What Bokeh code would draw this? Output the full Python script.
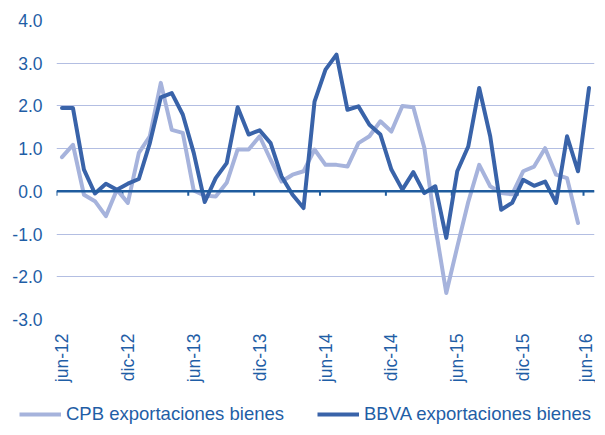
import math
from bokeh.plotting import figure
from bokeh.models import (Range1d, FixedTicker, Span, Legend, LegendItem,
                          ColumnDataSource)
from bokeh.embed import file_html
from bokeh.resources import INLINE

# ---- data -------------------------------------------------------------
tick_labels = ["jun-12", "dic-12", "jun-13", "dic-13", "jun-14",
               "dic-14", "jun-15", "dic-15", "jun-16"]
n_months = 49  # jun-12 .. jun-16
series_names = ["CPB exportaciones bienes", "BBVA exportaciones bienes"]

cpb = [0.80, 1.09, -0.08, -0.23, -0.58, 0.04, -0.27, 0.90, 1.29, 2.54,
       1.44, 1.37, 0.02, -0.10, -0.12, 0.20, 0.98, 0.98, 1.29, 0.74,
       0.23, 0.39, 0.47, 0.98, 0.62, 0.62, 0.58, 1.13, 1.29, 1.64,
       1.40, 2.00, 1.97, 1.02, -0.82, -2.38, -1.30, -0.25, 0.62, 0.12,
       -0.04, -0.07, 0.47, 0.58, 1.01, 0.39, 0.31, -0.74, float("nan")]

bbva = [1.95, 1.95, 0.51, -0.05, 0.18, 0.04, 0.18, 0.29, 1.13, 2.20,
        2.30, 1.80, 0.90, -0.25, 0.31, 0.66, 1.97, 1.33, 1.43, 1.13,
        0.35, -0.08, -0.39, 2.10, 2.85, 3.20, 1.91, 1.99, 1.56, 1.33,
        0.51, 0.04, 0.45, -0.04, 0.12, -1.09, 0.47, 1.05, 2.42, 1.29,
        -0.43, -0.27, 0.27, 0.13, 0.23, -0.27, 1.29, 0.47, 2.42]

y_ticks = [-3, -2, -1, 0, 1, 2, 3, 4]

# ---- styling ----------------------------------------------------------
TEXT = "#1f5ea6"
AXIS = "#1f5c9e"
GRID = "#b3bee2"
C_CPB = "#a6b3dc"
C_BBVA = "#3963a9"
FONT = "Liberation Sans"

months = list(range(n_months))
label_ticks = list(range(0, n_months, 6))

p = figure(frame_width=538, frame_height=299, output_backend="svg",
           toolbar_location=None,
           x_range=Range1d(-0.5, n_months - 0.5), y_range=Range1d(-3, 4),
           min_border_left=56, min_border_right=1, min_border_top=20,
           min_border_bottom=80)
p.outline_line_color = None
p.background_fill_color = "white"

# grid
p.xgrid.grid_line_color = None
p.ygrid.ticker = FixedTicker(ticks=y_ticks)
p.ygrid.grid_line_color = GRID
p.ygrid.grid_line_width = 1.2

# y axis
p.yaxis.ticker = FixedTicker(ticks=y_ticks)
p.yaxis.major_label_overrides = {t: f"{t:.1f}" for t in y_ticks}
p.yaxis.axis_line_color = None
p.yaxis.major_tick_line_color = None
p.yaxis.minor_tick_line_color = None
p.yaxis.major_tick_out = 0
p.yaxis.major_label_standoff = 14
p.yaxis.major_label_text_font = FONT
p.yaxis.major_label_text_font_size = "17.5px"
p.yaxis.major_label_text_color = TEXT

# x axis (labels only)
p.xaxis.ticker = FixedTicker(ticks=label_ticks)
p.xaxis.major_label_overrides = {t: l for t, l in zip(label_ticks, tick_labels)}
p.xaxis.major_label_orientation = math.pi / 2
p.xaxis.axis_line_color = None
p.xaxis.major_tick_line_color = None
p.xaxis.minor_tick_line_color = None
p.xaxis.major_tick_out = 0
p.xaxis.major_label_standoff = 14
p.xaxis.major_label_text_font = FONT
p.xaxis.major_label_text_font_size = "17.5px"
p.xaxis.major_label_text_color = TEXT

# zero line with tick marks at half-year boundaries
p.add_layout(Span(location=0, dimension="width", line_color=AXIS,
                  line_width=2.5))
bounds = [t - 0.5 for t in label_ticks]
p.segment(x0=bounds, x1=bounds, y0=[0] * len(bounds),
          y1=[-0.1] * len(bounds), line_color=AXIS, line_width=2)

src = ColumnDataSource(dict(x=months, cpb=cpb, bbva=bbva))
p.line("x", "cpb", source=src, line_color=C_CPB, line_width=4,
       line_join="round", line_cap="round")
p.line("x", "bbva", source=src, line_color=C_BBVA, line_width=4,
       line_join="round", line_cap="round")

# ---- legend strip below the chart (separate root, not frame-aligned) --
pl = figure(width=595, height=30, output_backend="svg", toolbar_location=None,
            x_range=Range1d(0, 1), y_range=Range1d(0, 1),
            x_axis_location=None, y_axis_location=None,
            min_border_left=0, min_border_right=0,
            min_border_top=0, min_border_bottom=0)
pl.grid.visible = False
pl.outline_line_color = None
# swatch renderers for the legend (their own lines fall outside the strip)
dummy = ColumnDataSource(dict(x=[5, 6], y=[5, 6]))
l1 = pl.line("x", "y", source=dummy, line_color=C_CPB, line_width=4)
l2 = pl.line("x", "y", source=dummy, line_color=C_BBVA, line_width=4)
legend = Legend(items=[LegendItem(label=series_names[0], renderers=[l1]),
                       LegendItem(label=series_names[1], renderers=[l2])],
                orientation="horizontal", location=(19, 4),
                glyph_width=42, glyph_height=18, label_standoff=5, spacing=33,
                label_text_font=FONT, label_text_font_size="18.5px",
                label_text_color=TEXT, border_line_color=None,
                background_fill_alpha=0, padding=0, margin=0)
pl.add_layout(legend, "center")

open("out.html", "w").write(file_html([p, pl], INLINE))
